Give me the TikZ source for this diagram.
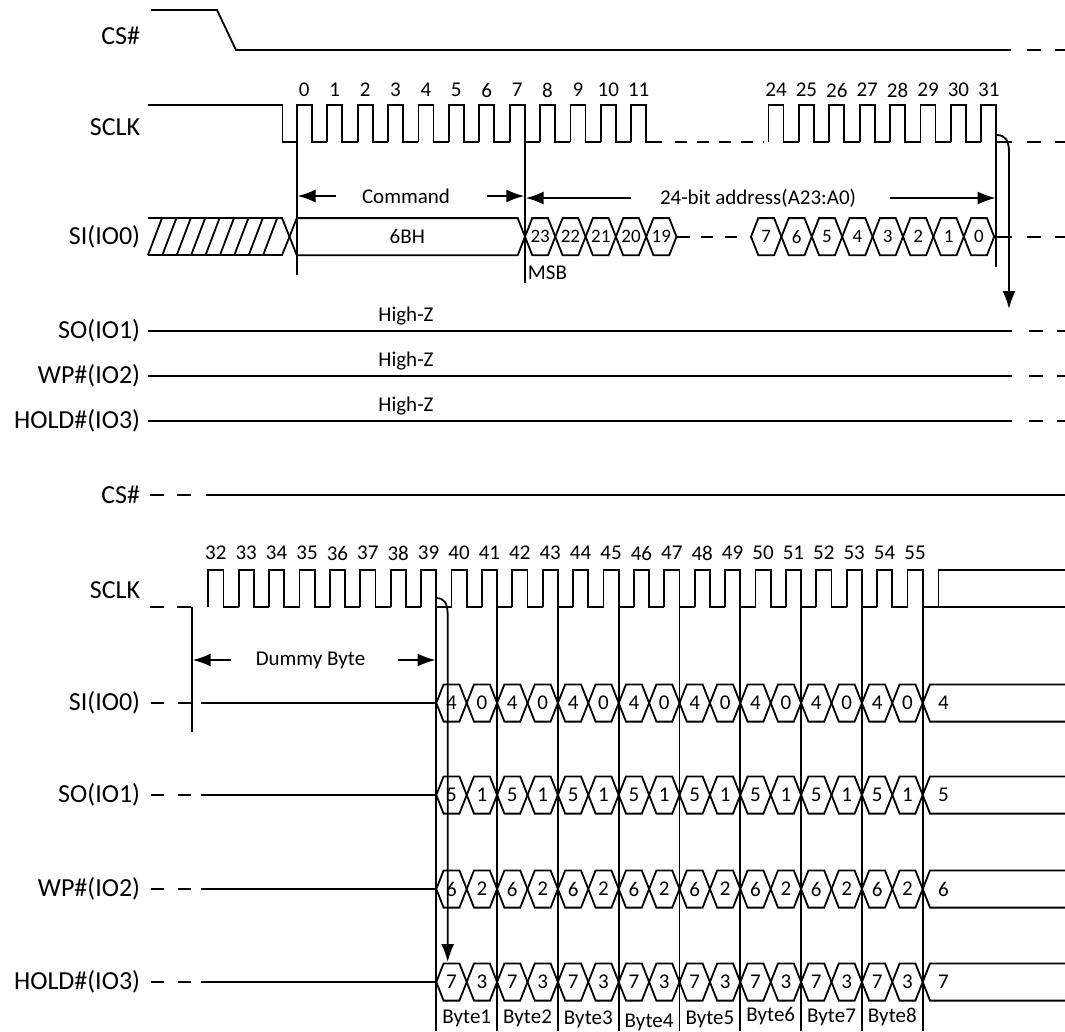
\documentclass[tikz,border=0pt]{standalone}
\usepackage{fontspec}
\setmainfont{Carlito}
\usetikzlibrary{arrows.meta}
\newcommand{\bitcell}[5]{%
  \draw (#1,#3) -- ++(7.3,-18.6) -- ++(#2-14.6,0) -- ++(7.3,18.6) -- ++(-7.3,18.6) -- ++(14.6-#2,0) -- cycle;
  \node[bit] (#5) at (#1+#2/2,#3) {#4};}
\begin{document}
\begin{tikzpicture}[x=1pt,y=-1pt,line width=1.8pt,>={Latex[length=18pt,width=13pt]},
    lbl/.style={anchor=east,inner sep=0pt,font=\fontsize{26}{30}\selectfont},
    note/.style={inner sep=0pt,font=\fontsize{21}{25}\selectfont},
    bit/.style={inner sep=0pt,font=\fontsize{21}{25}\selectfont},
    dsh/.style={dash pattern=on 14pt off 14pt},
    gap/.style={dash pattern=on 13.6pt off 13.4pt}]
    \useasboundingbox (0,0) rectangle (1065,1031);

    \node[lbl] (cs1) at (141,36) {CS\#};
    \draw (151,10) -- (217,10) -- (236,50) -- (1011,50);
    \draw[dsh] (1027,50) -- (1065,50);

    \node[lbl] (sclk1) at (141,127) {SCLK};
    \draw (148,105) -- (282.4,105) -- (282.4,142) -- (296.8,142);
    \foreach \i in {0,...,11} {
        \draw (296.8+30.4*\i,142) -- ++(0,-37) -- ++(15,0) -- ++(0,37) -- ++(15.4,0);
        \node[note] (c\i) at (304.3+30.4*\i,90) {\i};
    }
    \draw[dash pattern=on 12pt off 10pt] (675,142) -- (764,142);
    \foreach \i in {24,...,31} {
        \draw (38.9+30.4*\i,142) -- ++(0,-37) -- ++(15,0) -- ++(0,37) -- ++(15.4,0);
        \node[note] (c\i) at (46.4+30.4*\i,90) {\i};
    }
    \draw[dsh] (1027,142) -- (1065,142);

    \node[lbl] (si1) at (141,237) {SI(IO0)};
    \draw (148,218) -- (282,218) -- (289.5,236.7) -- (282,255) -- (148,255);
    \foreach \i in {0,...,8} \draw (148+14.4*\i,255) -- ++(14,-37);
    \bitcell{289.5}{235.5}{236.7}{6BH}{cmdbits}
    \begin{scope}[bit/.append style={font=\fontsize{19}{23}\selectfont}]
        \foreach \t [count=\i from 0] in {23,22,21,20,19} {\bitcell{525+30.3*\i}{30.3}{236.7}{\t}{a\t}}
        \draw (676.5,236.7) -- (690,236.7);
        \draw[dash pattern=on 12.2pt off 12.2pt] (700.7,236.7) -- (751,236.7);
        \foreach \t [count=\i from 0] in {7,6,5,4,3,2,1,0} {\bitcell{751+30.4*\i}{30.4}{236.7}{\t}{a\t}}
    \end{scope}
    \draw (994.2,236.7) -- (1011.8,236.7);
    \draw[dsh] (1027,236.7) -- (1065,236.7);

    \draw (296.8,142) -- (296.8,275);
    \draw (525,142) -- (525,283);
    \draw (996.3,142) -- (996.3,267);
    \node[note,anchor=west] (msb) at (527,273) {MSB};
    \node[note] (cmd) at (406,196) {Command};
    \draw[->] (335.7,196) -- (297.5,196);
    \draw[->] (487,196) -- (524.3,196);
    \node[note] (addr) at (758,198) {24-bit address(A23:A0)};
    \draw[->] (631,198) -- (525.7,198);
    \draw[->] (890,198) -- (995.6,198);
    \draw[->] (996.3,135) .. controls (1005,135) and (1009,140) .. (1009,152) -- (1009,309);

    \foreach \n/\y/\t in {so1/331/SO(IO1), wp1/376/WP\#(IO2), hd1/421/HOLD\#(IO3)} {
        \node[lbl] (\n) at (141,\y) {\t};
        \draw (148,\y) -- (1012,\y);
        \draw[dsh] (1029,\y) -- (1065,\y);
        \node[note] (z\n) at (406,\y-14.5) {High-Z};
    }

    \node[lbl] (cs2) at (141,495) {CS\#};
    \draw[gap] (150,495) -- (191,495);
    \draw (205.6,495) -- (1065,495);

    \node[lbl] (sclk2) at (141,590) {SCLK};
    \draw[gap] (150,606.7) -- (192,606.7);
    \draw (192,606.7) -- (192,732);
    \foreach \i in {32,...,55} {
        \draw (30.4*\i-764.5,606.7) -- ++(0,-36.7) -- ++(15.2,0) -- ++(0,36.7) -- ++(15.2,0);
        \node[note] (c\i) at (30.4*\i-757,553) {\i};
    }
    \draw (1065,570) -- (938.5,570) -- (938.5,606.7) -- (1065,606.7);

    \node[note] (dummy) at (310.5,660) {Dummy Byte};
    \draw[->] (231.4,660) -- (192.7,660);
    \draw[->] (397.7,660) -- (435.6,660);

    \foreach \n/\y/\hi/\lo/\t in {si2/703/4/0/SI(IO0), so2/795/5/1/SO(IO1), wp2/889/6/2/WP\#(IO2), hd2/982/7/3/HOLD\#(IO3)} {
        \node[lbl] (\n) at (141,\y) {\t};
        \draw[gap] (150.5,\y) -- (191,\y);
        \draw (201.4,\y) -- (436.3,\y);
        \foreach \k in {0,...,7} {
            \bitcell{436.3+60.8*\k}{30.4}{\y}{\hi}{\n-h\k}
            \bitcell{466.7+60.8*\k}{30.4}{\y}{\lo}{\n-l\k}
        }
        \draw (1065,\y-18.6) -- (930,\y-18.6) -- (922.7,\y) -- (930,\y+18.6) -- (1065,\y+18.6);
        \node[bit] (\n-e) at (943.4,\y) {\hi};
    }

    \foreach \k in {0,...,8} \draw (436.3+60.8*\k,570) -- (436.3+60.8*\k,1031);
    \draw[->] (436.3,598) .. controls (444,598) and (447.7,603) .. (447.7,615) -- (447.7,962);
    \foreach \k/\d in {1/0,2/0,3/1,4/4,5/1,6/-2,7/-1,8/-1} \node[note] (b\k) at (405.9+60.8*\k,1018+\d) {Byte\k};
\end{tikzpicture}
\end{document}
